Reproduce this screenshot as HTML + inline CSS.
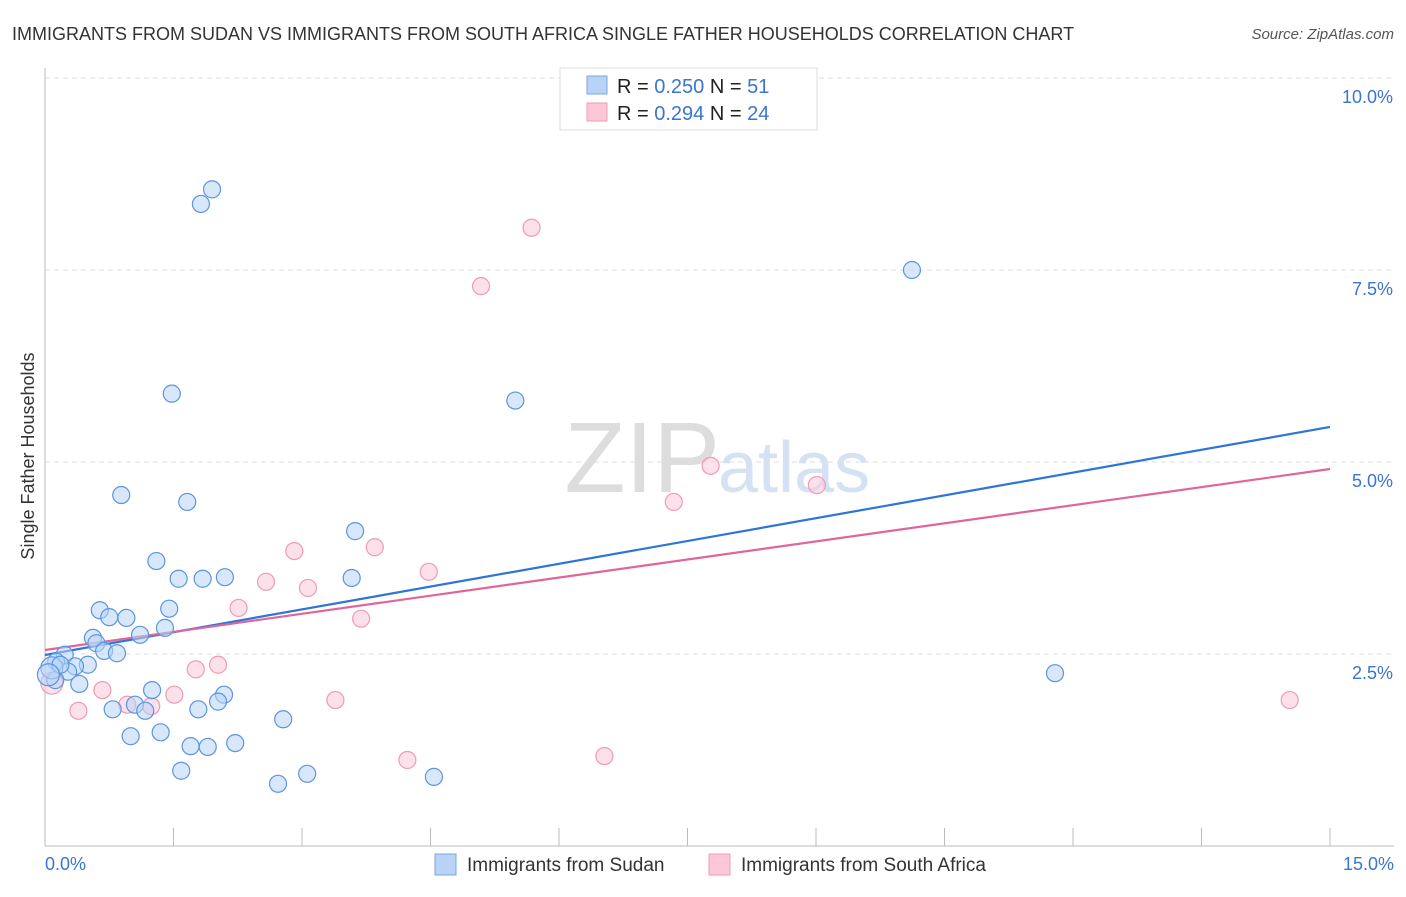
<!DOCTYPE html>
<html><head><meta charset="utf-8"><style>
body{margin:0;background:#fff;font-family:"Liberation Sans",sans-serif;}
svg text{font-family:"Liberation Sans",sans-serif;}
</style></head><body>
<svg id="chart" width="1406" height="892">
<text x="12" y="40" font-size="18" fill="#333">IMMIGRANTS FROM SUDAN VS IMMIGRANTS FROM SOUTH AFRICA SINGLE FATHER HOUSEHOLDS CORRELATION CHART</text>
<text x="1394" y="39" font-size="15" fill="#555" font-style="italic" text-anchor="end">Source: ZipAtlas.com</text>
<text x="720" y="492" font-size="100" fill="#ddd" text-anchor="end" font-family="Liberation Serif">ZIP</text>
<text x="718" y="492" font-size="72" fill="#d4e2f4">atlas</text>
<text transform="translate(34,456) rotate(-90)" font-size="18" fill="#333" text-anchor="middle">Single Father Households</text>
<g id="grid"></g><g id="axes"></g><g id="lines"></g><g id="pts"></g>
<g>
<rect x="560" y="68" width="257" height="62" fill="#fff" stroke="#ddd"/>
<rect x="587" y="76" width="20" height="18" fill="#b8d3f5" stroke="#7aa7e0"/>
<rect x="587" y="103" width="20" height="18" fill="#fcc8d8" stroke="#f09ab5"/>
<text x="617" y="93" font-size="20" fill="#222">R = <tspan fill="#3a75d0">0.250</tspan>   N =  <tspan fill="#3a75d0">51</tspan></text>
<text x="617" y="120" font-size="20" fill="#222">R =  <tspan fill="#3a75d0">0.294</tspan>   N = <tspan fill="#3a75d0">24</tspan></text>
</g>
<g>
<rect x="435" y="854" width="21" height="21" fill="#b8d3f5" stroke="#7aa7e0"/>
<text x="467" y="871" font-size="19" fill="#333">Immigrants from Sudan</text>
<rect x="709" y="854" width="21" height="21" fill="#fcc8d8" stroke="#f09ab5"/>
<text x="741" y="871" font-size="19" fill="#333">Immigrants from South Africa</text>
</g>
</svg>
<script>
const yTicks=[2.5,5.0,7.5,10.0];
const yTickLabels=["2.5%","5.0%","7.5%","10.0%"];
const xTicks=[0,1.5,3,4.5,6,7.5,9,10.5,12,13.5,15];
const sudanX=[1.95,1.82,10.12,1.48,5.49,0.89,1.66,3.62,1.30,1.56,1.84,2.10,3.58,0.64,1.45,0.75,0.95,1.40,0.56,1.11,0.60,0.69,0.84,0.23,0.13,0.50,0.35,0.27,0.12,0.40,1.25,2.09,1.05,2.02,0.79,1.79,1.17,2.78,1.00,1.35,1.70,1.90,2.22,1.59,3.06,4.54,2.72,11.79,0.08,0.18,0.04];
const sudanY=[8.55,8.36,7.50,5.89,5.80,4.57,4.48,4.10,3.71,3.48,3.48,3.50,3.49,3.07,3.09,2.98,2.97,2.84,2.71,2.75,2.64,2.54,2.51,2.49,2.40,2.36,2.34,2.27,2.16,2.11,2.03,1.97,1.84,1.88,1.78,1.78,1.76,1.65,1.43,1.48,1.30,1.29,1.34,0.98,0.94,0.90,0.81,2.25,2.32,2.36,2.23];
const saX=[5.68,5.09,7.77,9.01,7.34,2.91,3.85,2.58,3.07,4.48,2.26,3.69,2.02,1.76,0.67,1.51,0.96,1.24,3.39,0.39,4.23,6.53,14.53,0.08];
const saY=[8.05,7.29,4.95,4.70,4.48,3.84,3.89,3.44,3.36,3.57,3.10,2.96,2.36,2.30,2.03,1.97,1.84,1.82,1.90,1.76,1.12,1.17,1.90,2.12];
const sudanTrend=[2.487,5.456];
const saTrend=[2.552,4.909];
const NS="http://www.w3.org/2000/svg";
const sx=v=>45+v/15*1285, sy=v=>846-v/2.5*192;
function mk(tag,attrs,parent){const e=document.createElementNS(NS,tag);for(const k in attrs)e.setAttribute(k,attrs[k]);document.getElementById(parent).appendChild(e);return e;}
yTicks.forEach((t,i)=>{
 const g=mk('line',{x1:45,x2:1394,y1:sy(t),y2:sy(t),stroke:'#ddd','stroke-dasharray':'5,4'},'grid');
 
 
 const l=mk('text',{x:1393,y:sy(t)+25,'font-size':18,fill:'#3a75d0','text-anchor':'end'},'axes');
 l.textContent=yTickLabels[i];
 
 
});
const ya=mk('line',{x1:45,x2:45,y1:68,y2:846,stroke:'#bbb'},'axes');


const xa=mk('line',{x1:45,x2:1394,y1:846,y2:846,stroke:'#bbb'},'axes');


xTicks.forEach(t=>{
 const k=mk('line',{x1:sx(t),x2:sx(t),y1:828,y2:846,stroke:'#bbb'},'axes');
 
 
});
[[xTicks[0],"0.0%","start",45],[xTicks[10],"15.0%","end",1394]].forEach(a=>{
 const l=mk('text',{x:a[3],y:870,'font-size':18,fill:'#3a75d0','text-anchor':a[2]},'axes');
 l.textContent=a[1];
 
 
});
function pts(X,Y,fill,stroke,name){X.forEach((x,i)=>{
 const big=(x<0.1);
 const c=mk('circle',{cx:sx(x),cy:sy(Y[i]),r:big?11:8.5,fill:fill,'fill-opacity':0.55,stroke:stroke,'stroke-width':1.2},'pts');
 
 
});}
pts(saX,saY,'#fcc8d8','#f09ab5','south-africa-point');
pts(sudanX,sudanY,'#b8d3f5','#5b95e0','sudan-point');
const l1=mk('line',{x1:sx(0),x2:sx(15),y1:sy(sudanTrend[0]),y2:sy(sudanTrend[1]),stroke:'#2f74d8','stroke-width':2.2},'lines');


const l2=mk('line',{x1:sx(0),x2:sx(15),y1:sy(saTrend[0]),y2:sy(saTrend[1]),stroke:'#e0659a','stroke-width':2.2},'lines');


</script>
</body></html>
